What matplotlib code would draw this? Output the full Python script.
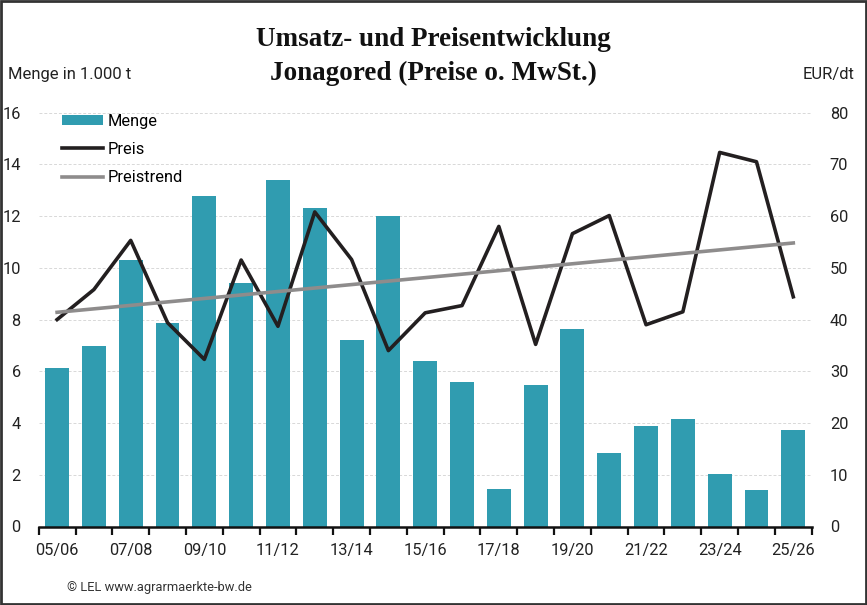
import matplotlib
matplotlib.use("Agg")
import matplotlib.pyplot as plt
import numpy as np
from matplotlib.patches import Rectangle

plt.rcParams['font.family'] = ['Roboto', 'DejaVu Sans']

seasons = ["05/06", "06/07", "07/08", "08/09", "09/10", "10/11", "11/12", "12/13",
           "13/14", "14/15", "15/16", "16/17", "17/18", "18/19", "19/20", "20/21",
           "21/22", "22/23", "23/24", "24/25", "25/26"]
menge = [6.11, 6.96, 10.29, 7.85, 12.77, 9.40, 13.38, 12.30, 7.20, 11.99, 6.40,
         5.59, 1.46, 5.47, 7.63, 2.85, 3.89, 4.16, 2.04, 1.42, 3.73]
preis = [40.0, 45.8, 55.3, 39.4, 32.3, 51.5, 38.7, 60.8, 51.6, 34.0, 41.3,
         42.7, 58.0, 35.2, 56.6, 60.1, 39.0, 41.5, 72.3, 70.5, 44.4]
trend_ends = [41.4, 54.8]
left_ticks = [0, 2, 4, 6, 8, 10, 12, 14, 16]
right_ticks = [0, 10, 20, 30, 40, 50, 60, 70, 80]

bar_color = "#309cb0"
line_color = "#231f20"
trend_color = "#8e8c8c"
tick_fs = 11.8

fig = plt.figure(figsize=(8.67, 6.05), dpi=100)
ax = fig.add_axes([38.7/867, 1-526.5/605, (811.7-38.7)/867, (526.5-112.6)/605])
ax2 = ax.twinx()

x = np.arange(len(seasons))
ax.bar(x, menge, width=0.65, color=bar_color, label="Menge", zorder=2)
ax.set_xlim(-0.5, len(seasons) - 0.5)
ax.set_ylim(0, 16)
ax.set_yticks(left_ticks)
ax.set_yticklabels([str(v) for v in left_ticks])
ax.grid(axis='y', color='#d8d8d8', linestyle=(0, (3, 2)), linewidth=0.7, zorder=0)
ax.set_axisbelow(True)

ax2.plot(x, preis, color=line_color, linewidth=2.6, label="Preis", zorder=3)
ax2.plot([x[0], x[-1]], trend_ends, color=trend_color, linewidth=2.6,
         label="Preistrend", zorder=3)
ax2.set_ylim(0, 80)
ax2.set_yticks(right_ticks)
ax2.set_yticklabels([str(v) for v in right_ticks])

for a in (ax, ax2):
    for s in ("top", "left", "right", "bottom"):
        a.spines[s].set_visible(False)
ax.spines["bottom"].set_visible(True)
ax.spines["bottom"].set_linewidth(1.8)
ax.spines["bottom"].set_color("#111111")

ax.tick_params(axis='y', length=0, pad=13, labelsize=tick_fs, labelcolor="#222222")
ax2.tick_params(axis='y', length=0, pad=13, labelsize=tick_fs, labelcolor="#222222")

# x ticks at category boundaries, labels every second season
ax.set_xticks(np.arange(-0.5, len(seasons), 1.0))
ax.set_xticklabels([])
ax.set_xticks(x[::2], minor=True)
ax.set_xticklabels([seasons[i] for i in x[::2]], minor=True)
ax.tick_params(axis='x', which='major', length=6, width=1.6, color="#111111", direction='out')
ax.tick_params(axis='x', which='minor', length=0, pad=12, labelsize=tick_fs, labelcolor="#222222")

# legend
h1, l1 = ax.get_legend_handles_labels()
h2, l2 = ax2.get_legend_handles_labels()
leg = ax2.legend(h1 + h2, l1 + l2, loc='upper left', bbox_to_anchor=(23/773, 0.997),
                 frameon=False, fontsize=11.8, handlelength=2.5, handleheight=0.6,
                 handletextpad=0.3, labelspacing=0.8, borderaxespad=0.0, borderpad=0.0)

# title and axis labels
serif = ['Liberation Serif', 'DejaVu Serif']
fig.text(433/867, 1-39/605, "Umsatz- und Preisentwicklung", ha='center', va='center',
         fontsize=19.5, fontweight='bold', family=serif, color="#111111")
fig.text(433/867, 1-73/605, "Jonagored (Preise o. MwSt.)", ha='center', va='center',
         fontsize=19.5, fontweight='bold', family=serif, color="#111111")
fig.text(8/867, 1-74/605, "Menge in 1.000 t", ha='left', va='center', fontsize=12, color="#222222")
fig.text(855/867, 1-74/605, "EUR/dt", ha='right', va='center', fontsize=12, color="#222222")

# footer
fig.text(67/867, 1-588/605, "\u00a9 LEL www.agrarmaerkte-bw.de", ha='left', va='center',
         fontsize=9.3, color="#333333")

# figure border
fig.patches.append(Rectangle((0.001, 0.001), 0.998, 0.997, transform=fig.transFigure,
                             fill=False, edgecolor="#333333", linewidth=2.0))

fig.savefig("out.png", dpi=100)
